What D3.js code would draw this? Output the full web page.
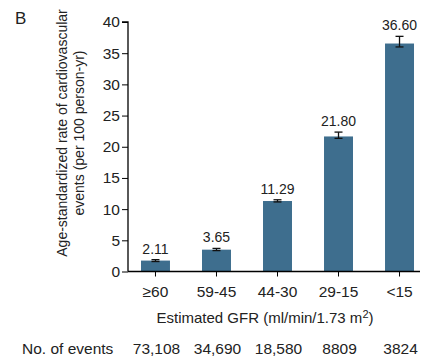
<!DOCTYPE html>
<html>
<head>
<meta charset="utf-8">
<script src="https://cdn.jsdelivr.net/npm/d3@7"></script>
<style>
	body { margin: 0; background: #fff; }
	svg text { font-family: "Liberation Sans", Arial, sans-serif; fill: #222; }
</style>
</head>
<body>
<div id="chart"></div>
<script>
// data
const categories = ["\u226560", "59-45", "44-30", "29-15", "<15"];
const rates = [1.75, 3.5, 11.3, 21.65, 36.55];
const errLow = [1.6, 3.35, 11.15, 21.35, 36.0];
const errHigh = [1.9, 3.7, 11.5, 22.35, 37.7];
const rateLabels = ["2.11", "3.65", "11.29", "21.80", "36.60"];
const events = ["73,108", "34,690", "18,580", "8809", "3824"];
const yTicks = [0, 5, 10, 15, 20, 25, 30, 35, 40];

const svg = d3
	.select("#chart")
	.append("svg")
	.attr("width", 424)
	.attr("height", 361);

// plot area
const plotLeft = 128, plotRight = 420, plotTop = 22, plotBottom = 271.5;

const y = d3.scaleLinear().domain([0, 40]).range([plotBottom, plotTop]);
const x = d3
	.scaleBand()
	.domain(categories)
	.range([plotLeft, 427])
	.paddingInner(0.525)
	.paddingOuter(0.213);

const data = categories.map((c, i) => ({
	name: c,
	value: rates[i],
	lo: errLow[i],
	hi: errHigh[i],
	label: rateLabels[i],
	n: events[i]
}));

// bars
svg
	.selectAll("rect.bar")
	.data(data)
	.enter()
	.append("rect")
	.attr("class", "bar")
	.attr("x", d => x(d.name))
	.attr("width", x.bandwidth())
	.attr("y", d => y(d.value))
	.attr("height", d => y(0) - y(d.value))
	.attr("fill", "#3e6e8e");

// error bars
const err = svg.append("g").attr("stroke", "#111").attr("stroke-width", 1.3);
data.forEach(d => {
	const cx = x(d.name) + x.bandwidth() / 2;
	err.append("line").attr("x1", cx).attr("x2", cx).attr("y1", y(d.lo)).attr("y2", y(d.hi));
	err.append("line").attr("x1", cx - 4).attr("x2", cx + 4).attr("y1", y(d.lo)).attr("y2", y(d.lo));
	err.append("line").attr("x1", cx - 4).attr("x2", cx + 4).attr("y1", y(d.hi)).attr("y2", y(d.hi));
});

// value labels
svg
	.selectAll("text.val")
	.data(data)
	.enter()
	.append("text")
	.attr("class", "val")
	.attr("x", d => x(d.name) + x.bandwidth() / 2)
	.attr("y", d => y(d.hi) - 6)
	.attr("text-anchor", "middle")
	.style("font-size", "14px")
	.text(d => d.label);

// axes
const yAxis = d3.axisLeft(y).tickValues(yTicks).tickSize(6).tickPadding(2);
const yAxisGroup = svg
	.append("g")
	.attr("transform", `translate(${plotLeft}, 0)`)
	.call(yAxis);
yAxisGroup.select(".domain").attr("d", `M-6,${plotTop}H0V${plotBottom}`).attr("stroke-width", 1.3);
yAxisGroup.selectAll("text").style("font-size", "15.5px").attr("fill", "#222");

const xAxis = d3.axisBottom(x).tickSize(5).tickPadding(9);
const xAxisGroup = svg
	.append("g")
	.attr("transform", `translate(0, ${plotBottom})`)
	.call(xAxis);
xAxisGroup.select(".domain").attr("d", `M${plotLeft},0H${plotRight}`).attr("stroke-width", 1.3);
xAxisGroup.selectAll("text").style("font-size", "15.5px").attr("fill", "#222");

// titles
svg.append("text")
	.attr("x", 15).attr("y", 24)
	.style("font-size", "17px")
	.text("B");

const yt = svg.append("text")
	.attr("transform", "translate(62, 133) rotate(-90)")
	.attr("text-anchor", "middle")
	.style("font-size", "14px");
yt.append("tspan").attr("x", 0).attr("dy", "0.35em").text("Age-standardized rate of cardiovascular");
yt.append("tspan").attr("x", 0).attr("dy", "1.2em").text("events (per 100 person-yr)");

const xt = svg.append("text")
	.attr("x", 265).attr("y", 323)
	.attr("text-anchor", "middle")
	.style("font-size", "15px");
xt.append("tspan").text("Estimated GFR (ml/min/1.73 m");
xt.append("tspan").attr("dy", "-5").style("font-size", "11px").text("2");
xt.append("tspan").attr("dy", "5").text(")");

// number of events row
svg.append("text")
	.attr("x", 22).attr("y", 354)
	.style("font-size", "15.5px")
	.text("No. of events");
svg
	.selectAll("text.n")
	.data(data)
	.enter()
	.append("text")
	.attr("class", "n")
	.attr("x", d => x(d.name) + x.bandwidth() / 2 + 1)
	.attr("y", 354)
	.attr("text-anchor", "middle")
	.style("font-size", "15.5px")
	.text(d => d.n);
</script>
</body>
</html>
